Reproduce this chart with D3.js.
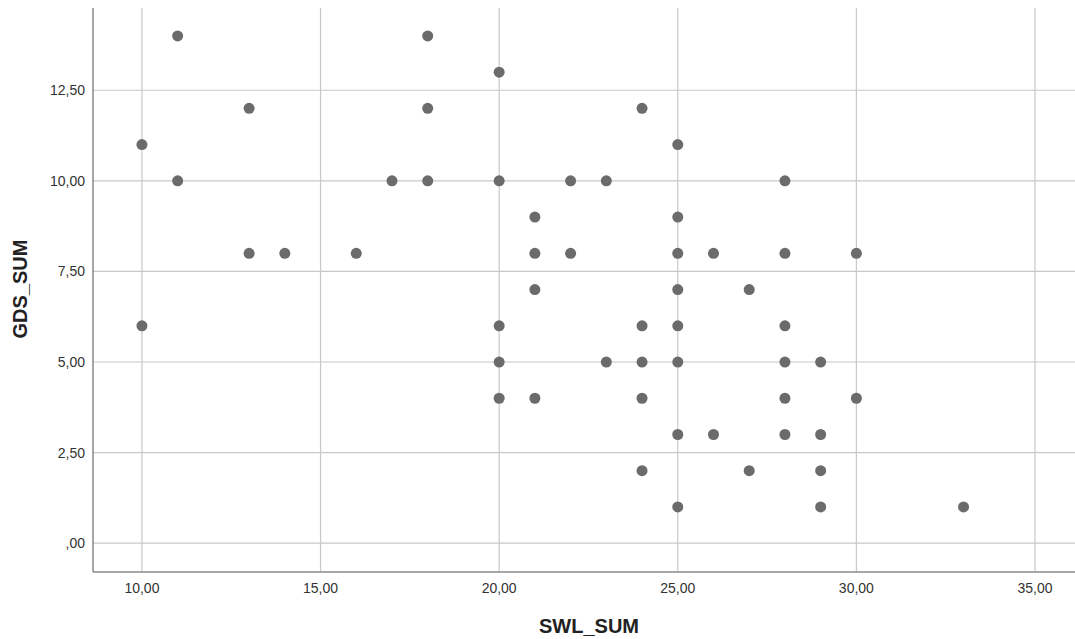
<!DOCTYPE html>
<html>
<head>
<meta charset="utf-8">
<script src="https://cdn.jsdelivr.net/npm/d3@7"></script>
<style>
  body { margin: 0; background: #fff; }
  text { font-family: "Liberation Sans", Arial, sans-serif; }
</style>
</head>
<body>
<svg id="chart" width="1075" height="639"></svg>
<script>
// SWL_SUM vs GDS_SUM
const swl = [10, 10, 11, 11, 13, 13, 14, 16, 17, 18, 18, 18, 20, 20, 20, 20, 20,
  21, 21, 21, 21, 22, 22, 23, 23, 24, 24, 24, 24, 24,
  25, 25, 25, 25, 25, 25, 25, 25, 26, 26, 27, 27,
  28, 28, 28, 28, 28, 28, 29, 29, 29, 29, 30, 30, 33];
const gds = [11, 6, 14, 10, 12, 8, 8, 8, 10, 14, 12, 10, 13, 10, 6, 5, 4,
  9, 8, 7, 4, 10, 8, 10, 5, 12, 6, 5, 4, 2,
  11, 9, 8, 7, 6, 5, 3, 1, 8, 3, 7, 2,
  10, 8, 6, 5, 4, 3, 5, 3, 2, 1, 8, 4, 1];
const xTicks = [10, 15, 20, 25, 30, 35];
const yTicks = [0, 2.5, 5, 7.5, 10, 12.5];

const svg = d3.select("#chart");
const plot = { left: 93, right: 1075, top: 8, bottom: 572 };

const x = d3.scaleLinear().domain([8.63, 36.12]).range([plot.left, plot.right]);
const y = d3.scaleLinear().domain([-0.795, 14.77]).range([plot.bottom, plot.top]);

const fmt = v => d3.format(".2f")(v).replace(".", ",").replace(/^0,/, ",");

// grid
svg.append("g").selectAll("line").data(yTicks).enter().append("line")
  .attr("x1", plot.left).attr("x2", plot.right)
  .attr("y1", d => y(d)).attr("y2", d => y(d))
  .attr("stroke", "#c8c8c8").attr("stroke-width", 1.2);

svg.append("g").selectAll("line").data(xTicks).enter().append("line")
  .attr("x1", d => x(d)).attr("x2", d => x(d))
  .attr("y1", plot.top).attr("y2", plot.bottom)
  .attr("stroke", "#c8c8c8").attr("stroke-width", 1.2);

// axes lines
svg.append("line").attr("x1", plot.left).attr("x2", plot.left)
  .attr("y1", plot.top).attr("y2", plot.bottom)
  .attr("stroke", "#8a8a8a").attr("stroke-width", 1.5);
svg.append("line").attr("x1", plot.left).attr("x2", plot.right)
  .attr("y1", plot.bottom).attr("y2", plot.bottom)
  .attr("stroke", "#8a8a8a").attr("stroke-width", 1.5);

// tick labels
svg.append("g").selectAll("text").data(yTicks).enter().append("text")
  .attr("x", plot.left - 8).attr("y", d => y(d)).attr("dy", "0.35em")
  .attr("text-anchor", "end").attr("font-size", 14).attr("fill", "#333")
  .text(fmt);

svg.append("g").selectAll("text").data(xTicks).enter().append("text")
  .attr("x", d => x(d)).attr("y", plot.bottom + 21)
  .attr("text-anchor", "middle").attr("font-size", 14).attr("fill", "#333")
  .text(fmt);

// axis titles
svg.append("text").attr("x", 589).attr("y", 633)
  .attr("text-anchor", "middle").attr("font-size", 20).attr("font-weight", "bold")
  .attr("fill", "#222").text("SWL_SUM");
svg.append("text")
  .attr("transform", "translate(27,289) rotate(-90)")
  .attr("text-anchor", "middle").attr("font-size", 20).attr("font-weight", "bold")
  .attr("fill", "#222").text("GDS_SUM");

// points
svg.append("g").selectAll("circle").data(swl).enter().append("circle")
  .attr("cx", d => x(d)).attr("cy", (d, i) => y(gds[i]))
  .attr("r", 5.5).attr("fill", "#6b6b6b");
</script>
</body>
</html>
